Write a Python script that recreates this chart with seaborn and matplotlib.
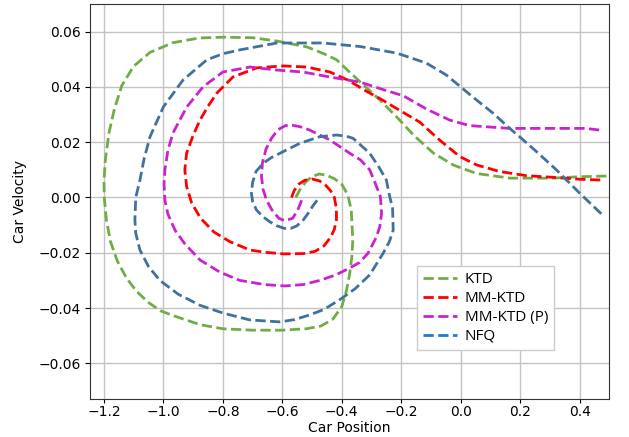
import matplotlib
matplotlib.use("Agg")
import matplotlib.pyplot as plt
from matplotlib.lines import Line2D
import seaborn as sns
import pandas as pd

# ---- data ----
ktd_x = [-0.555, -0.54, -0.52, -0.5, -0.475, -0.45, -0.425, -0.4, -0.38, -0.368, -0.363, -0.366,
         -0.374, -0.385, -0.4, -0.43, -0.47, -0.52, -0.6, -0.7, -0.8, -0.877, -0.96, -1.01, -1.05,
         -1.09, -1.125, -1.155, -1.178, -1.192, -1.199, -1.2, -1.195, -1.183, -1.165, -1.14, -1.1,
         -1.045, -0.968, -0.88, -0.8, -0.7, -0.618, -0.518, -0.46, -0.417, -0.38, -0.337, -0.27,
         -0.214, -0.158, -0.091, -0.024, 0.053, 0.165, 0.31, 0.4, 0.5]
ktd_y = [0.0, 0.003, 0.0058, 0.0076, 0.0085, 0.008, 0.0068, 0.0048, 0.001, -0.0045, -0.0154,
         -0.0214, -0.028, -0.034, -0.0395, -0.044, -0.0465, -0.0475, -0.048, -0.048, -0.0475,
         -0.046, -0.043, -0.041, -0.038, -0.034, -0.029, -0.023, -0.016, -0.008, 0.0, 0.006, 0.014,
         0.0235, 0.032, 0.0405, 0.0475, 0.0525, 0.056, 0.0577, 0.058, 0.0578, 0.0566, 0.0545,
         0.052, 0.0498, 0.046, 0.0417, 0.0351, 0.029, 0.0225, 0.016, 0.0117, 0.0087, 0.007, 0.007,
         0.0075, 0.0078]

mm_x = [-0.569, -0.56, -0.545, -0.525, -0.5, -0.475, -0.455, -0.438, -0.425, -0.418, -0.418,
        -0.425, -0.438, -0.46, -0.49, -0.53, -0.597, -0.66, -0.709, -0.776, -0.83, -0.875, -0.905,
        -0.922, -0.928, -0.922, -0.9, -0.877, -0.85, -0.82, -0.766, -0.686, -0.598, -0.518, -0.44,
        -0.38, -0.318, -0.262, -0.205, -0.138, -0.07, -0.003, 0.053, 0.131, 0.221, 0.31, 0.4,
        0.477]
mm_y = [0.0, 0.0025, 0.0048, 0.0062, 0.0067, 0.006, 0.0045, 0.0025, 0.0, -0.004, -0.008, -0.0115,
        -0.0145, -0.0175, -0.0195, -0.0203, -0.0204, -0.0198, -0.019, -0.016, -0.0125, -0.0075,
        -0.002, 0.004, 0.01, 0.016, 0.0225, 0.028, 0.033, 0.0378, 0.0436, 0.0469, 0.0476, 0.0472,
        0.0454, 0.0425, 0.0385, 0.0352, 0.0315, 0.0273, 0.0207, 0.0148, 0.0118, 0.0094, 0.0079,
        0.0073, 0.0066, 0.0063]

mmp_x = [-0.535, -0.548, -0.565, -0.592, -0.612, -0.635, -0.653, -0.665, -0.67, -0.667, -0.655,
         -0.636, -0.615, -0.59, -0.569, -0.54, -0.508, -0.44, -0.373, -0.337, -0.306, -0.285,
         -0.27, -0.266, -0.272, -0.283, -0.312, -0.34, -0.373, -0.42, -0.474, -0.53, -0.592, -0.66,
         -0.743, -0.81, -0.877, -0.93, -0.961, -0.985, -0.995, -0.998, -0.995, -0.985, -0.968,
         -0.945, -0.921, -0.867, -0.8, -0.709, -0.618, -0.531, -0.44, -0.337, -0.26, -0.193,
         -0.115, -0.037, 0.03, 0.165, 0.333, 0.42, 0.467]
mmp_y = [-0.001, -0.0045, -0.0075, -0.0084, -0.0075, -0.0045, -0.001, 0.003, 0.0075, 0.0125,
         0.0175, 0.0215, 0.0245, 0.026, 0.0262, 0.0256, 0.0244, 0.0208, 0.016, 0.0136, 0.01, 0.0045,
         0.0003, -0.0057, -0.0105, -0.0142, -0.0202, -0.0235, -0.0255, -0.028, -0.03, -0.0315,
         -0.032, -0.0315, -0.03, -0.027, -0.0226, -0.0165, -0.0118, -0.006, -0.001, 0.005, 0.01,
         0.017, 0.0233, 0.028, 0.0328, 0.04, 0.0454, 0.0472, 0.0461, 0.0454, 0.0436, 0.0417, 0.039,
         0.0368, 0.032, 0.028, 0.026, 0.025, 0.025, 0.025, 0.0244]

nfq_x = [-0.483, -0.497, -0.513, -0.532, -0.552, -0.572, -0.592, -0.617, -0.642, -0.667, -0.687,
         -0.7, -0.704, -0.7, -0.688, -0.664, -0.636, -0.608, -0.541, -0.474, -0.418, -0.385,
         -0.362, -0.337, -0.306, -0.275, -0.25, -0.239, -0.229, -0.227, -0.24, -0.261, -0.306,
         -0.355, -0.407, -0.46, -0.508, -0.56, -0.608, -0.709, -0.8, -0.877, -0.95, -1.012, -1.05,
         -1.079, -1.093, -1.096, -1.093, -1.079, -1.065, -1.045, -1.0, -0.934, -0.854, -0.8,
         -0.743, -0.618, -0.464, -0.337, -0.214, -0.115, -0.048, 0.0, 0.053, 0.109, 0.165, 0.198,
         0.255, 0.322, 0.4, 0.477]
nfq_y = [-0.001, -0.003, -0.0057, -0.0085, -0.0103, -0.0112, -0.0112, -0.0103, -0.0088, -0.0068,
         -0.0045, -0.0015, 0.0015, 0.0055, 0.0095, 0.0124, 0.0145, 0.016, 0.0196, 0.022, 0.0226,
         0.0222, 0.0214, 0.019, 0.016, 0.011, 0.0063, 0.0005, -0.004, -0.0118, -0.016, -0.0202,
         -0.028, -0.033, -0.037, -0.0405, -0.0425, -0.0442, -0.045, -0.0443, -0.0418, -0.039,
         -0.035, -0.03, -0.025, -0.019, -0.013, -0.008, 0.0, 0.0063, 0.014, 0.022, 0.0328, 0.0425,
         0.0498, 0.052, 0.0534, 0.0559, 0.0559, 0.0546, 0.0522, 0.0486, 0.0443, 0.04, 0.0353,
         0.0305, 0.025, 0.022, 0.0166, 0.01, 0.0016, -0.0063]

labels = ["KTD", "MM-KTD", "MM-KTD (P)", "NFQ"]
line_colors = ["#70ad47", "#ff0000", "#cc22cc", "#41719c"]
legend_colors = ["#70ad47", "#ff0000", "#cc22cc", "#1f7bd0"]

# ---- plot ----
fig = plt.figure(figsize=(6.29, 4.37), dpi=100)
ax = fig.add_axes([90 / 629, 1 - 399 / 437, (609.3 - 90) / 629, (399 - 4) / 437])

series = [(ktd_x, ktd_y), (mm_x, mm_y), (mmp_x, mmp_y), (nfq_x, nfq_y)]
for (xs, ys), lab, col in zip(series, labels, line_colors):
    df = pd.DataFrame({"x": xs, "y": ys})
    sns.lineplot(data=df, x="x", y="y", sort=False, estimator=None, ax=ax,
                 color=col, linestyle="--", linewidth=2, zorder=3)

ax.set_xlim(-1.247, 0.5)
ax.set_ylim(-0.0729, 0.070)
ax.set_xticks([-1.2, -1.0, -0.8, -0.6, -0.4, -0.2, 0.0, 0.2, 0.4])
ax.set_yticks([-0.06, -0.04, -0.02, 0.0, 0.02, 0.04, 0.06])
ax.tick_params(axis="x", pad=1.0, length=3)
ax.tick_params(axis="y", pad=3.0, length=3.5)
ax.grid(True, color="#c4c4c4", linewidth=1.0, zorder=0)
ax.set_axisbelow(True)
ax.set_xlabel("Car Position", fontsize=10, labelpad=1.5)
ax.set_ylabel("Car Velocity", fontsize=10, labelpad=8)
for s in ax.spines.values():
    s.set_color("#333333")

handles = [Line2D([0], [0], color=c, linestyle="--", linewidth=2) for c in legend_colors]
leg = ax.legend(handles, labels, loc="lower left", bbox_to_anchor=(0.63, 0.124),
                borderaxespad=0, fancybox=False, framealpha=1, edgecolor="#cccccc",
                prop={"family": "Open Sans", "size": 11}, labelspacing=0.25,
                handlelength=2.2, handletextpad=0.5, borderpad=0.4)

fig.savefig("out.png", dpi=100)
